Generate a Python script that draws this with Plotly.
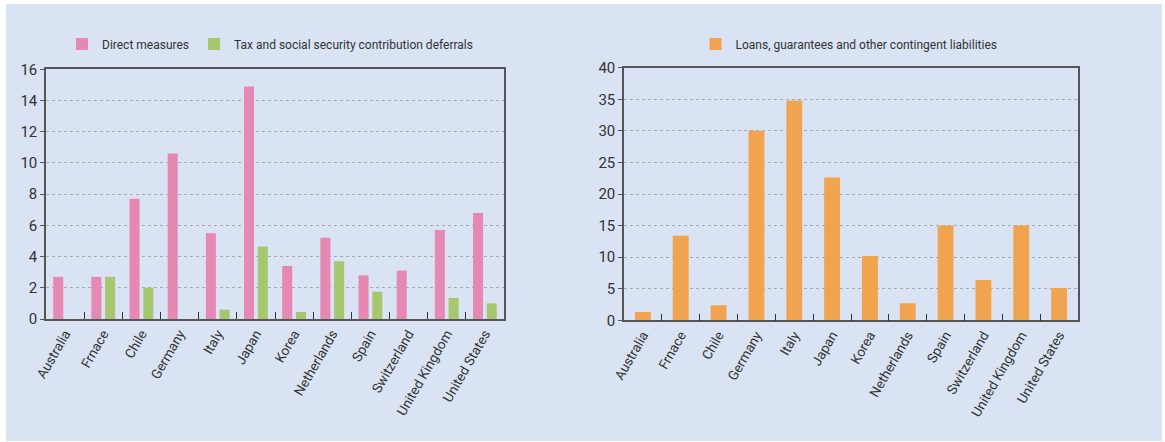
import plotly.graph_objects as go

countries = ["Australia", "Frnace", "Chile", "Germany", "Italy", "Japan", "Korea",
             "Netherlands", "Spain", "Switzerland", "United Kingdom", "United States"]
direct_measures = [2.7, 2.7, 7.7, 10.6, 5.5, 14.9, 3.4, 5.2, 2.8, 3.1, 5.7, 6.8]
tax_deferrals = [None, 2.7, 2.0, None, 0.6, 4.65, 0.45, 3.7, 1.75, None, 1.35, 1.0]
loans_guarantees = [1.3, 13.4, 2.4, 30.0, 34.8, 22.6, 10.2, 2.7, 15.0, 6.4, 15.0, 5.1]

left_ticks = [0, 2, 4, 6, 8, 10, 12, 14, 16]
right_ticks = [0, 5, 10, 15, 20, 25, 30, 35, 40]

PINK = "#E589B4"
GREEN = "#A6C76F"
ORANGE = "#F0A450"
PANEL = "#D9E3F3"
FONT = "Roboto"
TEXT = "#333333"

fig = go.Figure()

fig.add_trace(go.Bar(x=countries, y=direct_measures, name="Direct measures",
                     marker=dict(color=PINK, line=dict(width=0)),
                     xaxis="x", yaxis="y", legend="legend"))
fig.add_trace(go.Bar(x=countries, y=tax_deferrals,
                     name="Tax and social security contribution deferrals",
                     marker=dict(color=GREEN, line=dict(width=0)),
                     xaxis="x", yaxis="y", legend="legend"))
fig.add_trace(go.Bar(x=countries, y=loans_guarantees,
                     name="Loans, guarantees and other contingent liabilities",
                     marker=dict(color=ORANGE, line=dict(width=0)),
                     xaxis="x2", yaxis="y2", legend="legend2", width=0.42))

W, H = 1165, 442


def fx(px):
    return px / W


def fy(px):
    return 1 - px / H


xcommon = dict(
    showgrid=False, showline=True, linecolor="#555555", linewidth=1.5, mirror=True,
    ticks="inside", ticklen=7, tickcolor="#333333", tickwidth=1, tickson="boundaries",
    tickangle=-60, tickfont=dict(family=FONT, size=13.5, color=TEXT),
    automargin=False, fixedrange=True,
)
ycommon = dict(
    showgrid=True, gridcolor="#AAAAAA", griddash="dot", gridwidth=1,
    showline=True, linecolor="#555555", linewidth=1.5, mirror=True,
    ticks="outside", ticklen=4, tickcolor="#555555",
    tickfont=dict(family=FONT, size=15, color=TEXT), zeroline=False,
    automargin=False, fixedrange=True,
)

fig.update_layout(
    width=W, height=H,
    margin=dict(l=0, r=0, t=0, b=0, autoexpand=False),
    paper_bgcolor="white", plot_bgcolor="white",
    font=dict(family=FONT, color=TEXT),
    barmode="group", bargap=0.28, bargroupgap=0.27,
    showlegend=True,
    xaxis=dict(domain=[fx(46), fx(504)], anchor="y", **xcommon),
    yaxis=dict(domain=[fy(319), fy(69.3)], anchor="x", range=[0, 16],
               tickvals=left_ticks, **ycommon),
    xaxis2=dict(domain=[fx(624), fx(1078)], anchor="y2", **xcommon),
    yaxis2=dict(domain=[fy(320.3), fy(67.7)], anchor="x2", range=[0, 40],
                tickvals=right_ticks, **ycommon),
    legend=dict(orientation="h", x=fx(270), xanchor="center", y=fy(44), yanchor="middle",
                bgcolor="rgba(0,0,0,0)", font=dict(family=FONT, size=12, color=TEXT),
                itemclick=False, itemdoubleclick=False),
    legend2=dict(orientation="h", x=fx(849), xanchor="center", y=fy(44), yanchor="middle",
                 bgcolor="rgba(0,0,0,0)", font=dict(family=FONT, size=12, color=TEXT),
                 itemclick=False, itemdoubleclick=False),
    shapes=[dict(type="rect", xref="paper", yref="paper", layer="below",
                 x0=fx(6), x1=fx(1162), y0=fy(441), y1=fy(4),
                 fillcolor=PANEL, line=dict(width=0))],
)

fig.write_html("out.html")
